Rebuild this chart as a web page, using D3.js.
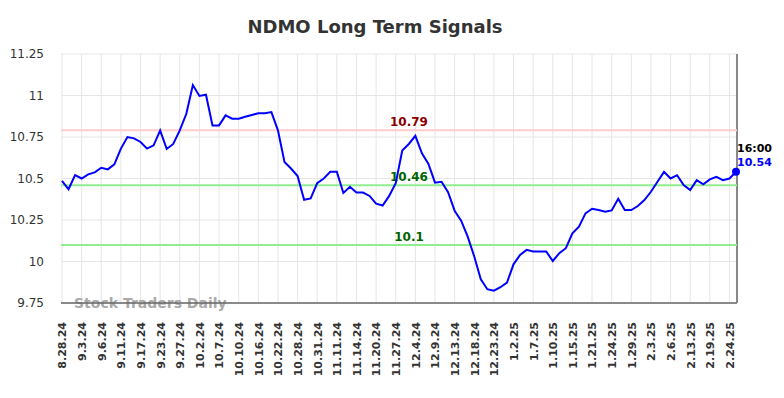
<!DOCTYPE html>
<html>
<head>
<meta charset="utf-8">
<script src="https://cdn.jsdelivr.net/npm/d3@7"></script>
<style>
  body { margin: 0; background: #fff; }
  svg { display: block; font-family: "DejaVu Sans", sans-serif; }
</style>
</head>
<body>
<div id="chart"></div>
<script>
const tickLabels = ["8.28.24","9.3.24","9.6.24","9.11.24","9.17.24","9.23.24","9.27.24","10.2.24","10.7.24","10.10.24",
  "10.16.24","10.22.24","10.28.24","10.31.24","11.11.24","11.14.24","11.20.24","11.27.24","12.4.24","12.9.24",
  "12.13.24","12.18.24","12.23.24","1.2.25","1.7.25","1.10.25","1.15.25","1.21.25","1.24.25","1.29.25",
  "2.3.25","2.6.25","2.13.25","2.19.25","2.24.25"]

const prices = [10.485,10.435,10.52,10.50,10.525,10.537,10.565,10.555,10.585,10.68,
  10.75,10.742,10.72,10.68,10.70,10.79,10.678,10.708,10.79,10.89,
  11.063,10.997,11.005,10.82,10.82,10.88,10.86,10.86,10.872,10.883,
  10.893,10.893,10.90,10.79,10.60,10.56,10.515,10.372,10.38,10.472,
  10.50,10.54,10.54,10.413,10.45,10.415,10.415,10.395,10.348,10.337,
  10.395,10.472,10.668,10.708,10.757,10.652,10.588,10.475,10.48,10.417,
  10.306,10.246,10.15,10.03,9.893,9.833,9.824,9.845,9.873,9.983,
  10.04,10.07,10.06,10.06,10.06,10.003,10.05,10.08,10.17,10.21,
  10.29,10.318,10.31,10.30,10.308,10.378,10.31,10.31,10.334,10.37,
  10.42,10.48,10.54,10.50,10.52,10.46,10.43,10.49,10.465,10.495,
  10.51,10.49,10.50,10.54]

const levels = [10.79, 10.46, 10.1]
const levelNames = ["resistance", "support", "support"]
const yTicks = [9.75, 10, 10.25, 10.5, 10.75, 11, 11.25]
const lastTime = "16:00"

const width = 784, height = 398
const plotLeft = 61, plotRight = 737, plotTop = 54, plotBottom = 303

const svg = d3.select("#chart").append("svg")
    .attr("width", width)
    .attr("height", height)

const x = d3.scaleLinear().domain([0, prices.length - 1]).range([62, 736])
const y = d3.scaleLinear().domain([9.75, 11.25]).range([plotBottom, plotTop])
const tickIdx = tickLabels.map((d, i) => i * 3)

// grid
svg.append("g").selectAll("line").data(tickIdx).join("line")
    .attr("x1", d => x(d)).attr("x2", d => x(d))
    .attr("y1", plotTop).attr("y2", plotBottom)
    .attr("stroke", "#e6e6e6").attr("stroke-width", 1)
svg.append("g").selectAll("line").data(yTicks).join("line")
    .attr("x1", plotLeft).attr("x2", plotRight)
    .attr("y1", d => y(d)).attr("y2", d => y(d))
    .attr("stroke", "#e6e6e6").attr("stroke-width", 1)

// y axis labels
svg.append("g")
    .attr("transform", `translate(${plotLeft - 7},0)`)
    .call(d3.axisLeft(y).tickValues(yTicks).tickSize(0).tickPadding(10)
        .tickFormat(d => String(+d.toFixed(2))))
    .call(g => g.select(".domain").remove())
    .call(g => g.selectAll("text").attr("font-size", 12).attr("fill", "#333")
        .attr("font-family", "DejaVu Sans, sans-serif"))

// watermark
svg.append("text")
    .attr("x", 74).attr("y", 308)
    .attr("font-size", 14).attr("font-weight", "bold")
    .attr("fill", "#aaa")
    .text("Stock Traders Daily")

// x axis
svg.append("g")
    .attr("transform", `translate(0,${plotBottom})`)
    .call(d3.axisBottom(x).tickValues(tickIdx).tickSize(0)
        .tickFormat((d, i) => tickLabels[i]))
    .call(g => g.select(".domain").remove())
    .call(g => g.selectAll("text")
        .attr("transform", "rotate(-90)")
        .attr("text-anchor", "end")
        .attr("x", -19).attr("y", 0).attr("dy", "0.35em")
        .attr("font-size", 11).attr("font-weight", "bold")
        .attr("fill", "#333")
        .attr("font-family", "DejaVu Sans, sans-serif"))

svg.append("line")
    .attr("x1", plotLeft).attr("x2", plotRight)
    .attr("y1", plotBottom).attr("y2", plotBottom)
    .attr("stroke", "#666").attr("stroke-width", 1.5)
svg.append("line")
    .attr("x1", plotRight).attr("x2", plotRight)
    .attr("y1", plotTop).attr("y2", plotBottom)
    .attr("stroke", "#888").attr("stroke-width", 2)

// signal levels
svg.append("g").selectAll("line").data(levels).join("line")
    .attr("x1", plotLeft).attr("x2", plotRight)
    .attr("y1", d => y(d)).attr("y2", d => y(d))
    .attr("stroke", (d, i) => levelNames[i] === "resistance" ? "#ffcccc" : "#90ee90")
    .attr("stroke-width", 2)
svg.append("g").selectAll("text").data(levels).join("text")
    .attr("x", 409).attr("y", d => y(d) - 4)
    .attr("text-anchor", "middle")
    .attr("font-size", 12).attr("font-weight", "bold")
    .attr("fill", (d, i) => levelNames[i] === "resistance" ? "#8b0000" : "#006400")
    .text(d => d)

// price line
svg.append("path")
    .datum(prices)
    .attr("fill", "none")
    .attr("stroke", "#0000ff")
    .attr("stroke-width", 2)
    .attr("d", d3.line().x((d, i) => x(i)).y(d => y(d)))

const last = prices.length - 1
svg.append("circle")
    .attr("cx", x(last)).attr("cy", y(prices[last]))
    .attr("r", 4).attr("fill", "#0000ff")
svg.append("text")
    .attr("x", plotRight).attr("y", y(prices[last]) - 20)
    .attr("font-size", 11).attr("font-weight", "bold").attr("fill", "#000")
    .text(lastTime)
svg.append("text")
    .attr("x", plotRight).attr("y", y(prices[last]) - 6)
    .attr("font-size", 11).attr("font-weight", "bold").attr("fill", "#0000ff")
    .text(prices[last].toFixed(2))

// title
svg.append("text")
    .attr("x", 375).attr("y", 33)
    .attr("text-anchor", "middle")
    .attr("font-size", 18).attr("font-weight", "bold").attr("fill", "#333")
    .text("NDMO Long Term Signals")
</script>
</body>
</html>
